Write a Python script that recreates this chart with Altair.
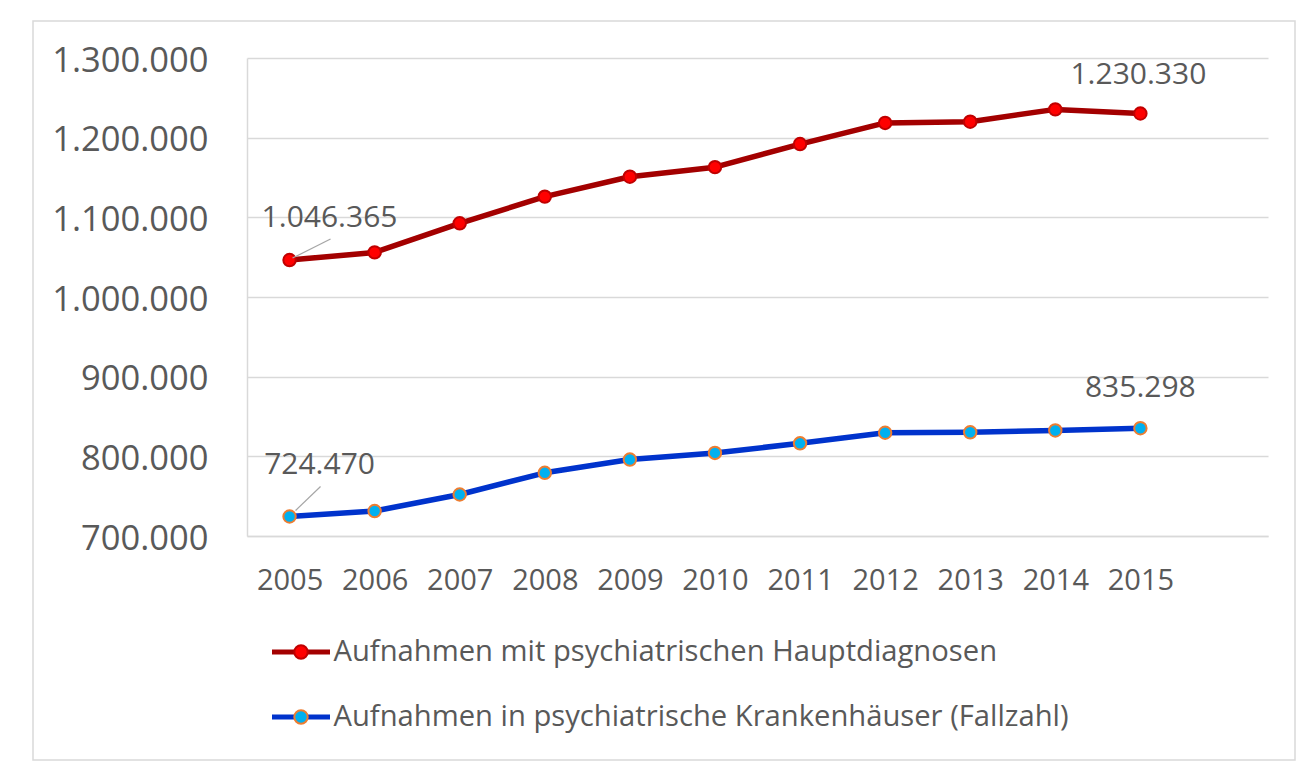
import altair as alt
import pandas as pd

years = [2005, 2006, 2007, 2008, 2009, 2010, 2011, 2012, 2013, 2014, 2015]
hauptdiagnosen = [1046365, 1056000, 1092500, 1126000, 1151000, 1163000,
                  1192000, 1218500, 1220000, 1235500, 1230330]
krankenhaeuser = [724470, 731300, 752100, 779300, 796000, 804300,
                  816300, 829600, 830200, 832500, 835298]
series_labels = ["Aufnahmen mit psychiatrischen Hauptdiagnosen",
                 "Aufnahmen in psychiatrische Krankenhäuser (Fallzahl)"]
y_ticks = [700000, 800000, 900000, 1000000, 1100000, 1200000, 1300000]

rows = []
for y, v in zip(years, hauptdiagnosen):
    rows.append({"year": y, "value": v, "s": "A", "s2": "A2"})
for y, v in zip(years, krankenhaeuser):
    rows.append({"year": y, "value": v, "s": "B", "s2": "B2"})
df = pd.DataFrame(rows)

GRAY = "#595959"
GRID = "#d9d9d9"
FONT = "Open Sans"
DE_FMT = "replace(format(datum.value, ','), regexp(',', 'g'), '.')"
LABEL_EXPR = ("(datum.label == 'A' || datum.label == 'A2') ? '%s' : '%s'"
              % (series_labels[0], series_labels[1]))

PATH_LINE = "M-1,0L-0.2,0M0.2,0L1,0"
PATH_CIRCLE = "M0.22,0A0.22,0.22,0,1,1,-0.22,0A0.22,0.22,0,1,1,0.22,0Z"

LEG_X = 22.5
LEG_Y = 562.5
ROW_PAD = 18

x_enc = alt.X("year:Q",
              scale=alt.Scale(domain=[2004.5, 2016.5], nice=False, zero=False),
              axis=alt.Axis(values=years, format="d", grid=False, ticks=False,
                            domain=True, domainColor=GRID, domainWidth=1.5,
                            labelFont=FONT, labelFontSize=29, labelColor=GRAY,
                            labelPadding=30, title=None))
y_enc = alt.Y("value:Q",
              scale=alt.Scale(domain=[700000, 1300000], nice=False, zero=False),
              axis=alt.Axis(values=y_ticks, labelExpr=DE_FMT, grid=True,
                            gridColor=GRID, gridWidth=1.5, ticks=False,
                            domain=True, domainColor=GRID, domainWidth=1.5,
                            labelFont=FONT, labelFontSize=34.5, labelColor=GRAY,
                            labelPadding=39, labelOffset=3, title=None))

base = alt.Chart(df)

frame = alt.Chart(alt.Data(values=[{}])).mark_rect(
    fillOpacity=0, stroke=GRID, strokeWidth=1.5
).encode(x=alt.value(-214), x2=alt.value(1048), y=alt.value(-37), y2=alt.value(702))

lines = base.mark_line(strokeWidth=5.5, strokeJoin="round").encode(
    x=x_enc, y=y_enc,
    color=alt.Color("s:N",
                    scale=alt.Scale(domain=["A", "B"], range=["#a30000", "#0033cc"]),
                    legend=alt.Legend(title=None, orient="none", legendX=LEG_X, legendY=LEG_Y,
                                      direction="vertical", symbolType=PATH_LINE,
                                      symbolSize=3364, symbolStrokeWidth=5,
                                      symbolOpacity=1,
                                      labelFont=FONT, labelFontSize=29.2, labelColor=GRAY,
                                      labelOffset=1, rowPadding=ROW_PAD, labelLimit=0,
                                      labelExpr=LABEL_EXPR)),
)

leg2 = alt.Legend(title=None, orient="none", legendX=LEG_X, legendY=LEG_Y,
                  direction="vertical", symbolType=PATH_CIRCLE,
                  symbolSize=3721, symbolStrokeWidth=2, symbolOpacity=1,
                  labelFont=FONT, labelFontSize=29.2, labelColor=GRAY, labelOpacity=0,
                  labelOffset=1, rowPadding=ROW_PAD, labelLimit=0, labelExpr=LABEL_EXPR)

points = base.mark_point(filled=True, size=155, strokeWidth=2, opacity=1).encode(
    x=x_enc, y=y_enc,
    fill=alt.Fill("s2:N",
                  scale=alt.Scale(domain=["A2", "B2"], range=["#ff0000", "#00b0f0"]),
                  legend=leg2),
    stroke=alt.Stroke("s2:N",
                      scale=alt.Scale(domain=["A2", "B2"], range=["#c00000", "#ed7d31"]),
                      legend=leg2),
)


def label_layer(year, s, dx, dy):
    return base.transform_filter(
        (alt.datum.year == year) & (alt.datum.s == s)
    ).transform_calculate(label=DE_FMT).mark_text(
        font=FONT, fontSize=30, color=GRAY, dx=dx, dy=dy
    ).encode(x=x_enc, y=y_enc, text="label:N")


def leader(year, s, x0, y0, x1, y1):
    return base.transform_filter(
        (alt.datum.year == year) & (alt.datum.s == s)
    ).mark_rule(color="#a6a6a6", strokeWidth=1.2,
                xOffset=x0, yOffset=y0, x2Offset=x1, y2Offset=y1).encode(
        x=x_enc, y=y_enc, x2="year:Q", y2="value:Q")


chart = alt.layer(
    frame,
    lines,
    points,
    leader(2005, "A", 3, -2, 41, -21),
    leader(2005, "B", 6, -6, 31, -30),
    label_layer(2005, "A", 40, -42),
    label_layer(2005, "B", 30, -52),
    label_layer(2015, "A", -2, -39),
    label_layer(2015, "B", 0, -40),
).resolve_scale(
    color="independent", fill="independent", stroke="independent"
).properties(
    width=1021, height=478,
    padding={"left": 239, "top": 50, "right": 30, "bottom": 230},
    autosize=alt.AutoSizeParams(type="none"),
    background="white",
).configure_view(strokeWidth=0)

chart.save("out.html", embed_options={"renderer": "svg", "actions": False})
